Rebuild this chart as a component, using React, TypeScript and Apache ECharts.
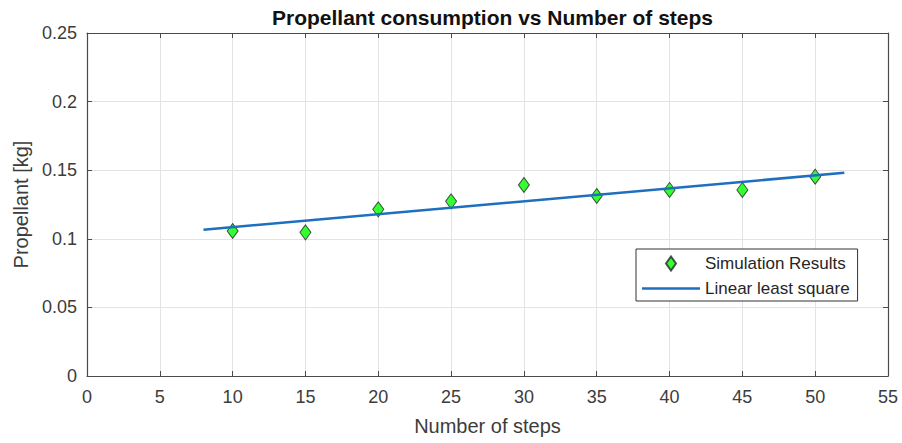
import React, { useEffect, useRef } from "react";
import * as echarts from "echarts";

const steps = [10, 15, 20, 25, 30, 35, 40, 45, 50];
const propellant = [0.1057, 0.1047, 0.1215, 0.1273, 0.1392, 0.1312, 0.1356, 0.1356, 0.1453];
const fitSteps = [8, 52];
const fitPropellant = [0.1066, 0.1481];
const seriesNames = ["Simulation Results", "Linear least square"];

const FONT = "'Liberation Sans', Arial, Helvetica, sans-serif";
const AXIS_COLOR = "#4a4a4a";
const TEXT_COLOR = "#3c3c3c";

export default function App() {
  const ref = useRef<HTMLDivElement>(null);
  useEffect(() => {
    if (!ref.current) return;
    const chart = echarts.init(ref.current, undefined, { renderer: "svg" });
    const commonX = {
      type: "value" as const,
      min: 0,
      max: 55,
      interval: 5,
    };
    const commonY = {
      type: "value" as const,
      min: 0,
      max: 0.25,
      interval: 0.05,
    };
    chart.setOption({
      animation: false,
      backgroundColor: "#ffffff",
      textStyle: { fontFamily: FONT },
      title: {
        text: "Propellant consumption vs Number of steps",
        left: 487.5,
        top: 2,
        textAlign: "center",
        textStyle: { fontFamily: FONT, fontSize: 21, fontWeight: "bold", color: "#111111" },
      },
      grid: { left: 87, right: 14, top: 33, bottom: 67, containLabel: false },
      xAxis: [
        {
          ...commonX,
          position: "bottom",
          name: "Number of steps",
          nameLocation: "middle",
          nameGap: 40,
          nameTextStyle: { fontFamily: FONT, fontSize: 20, color: TEXT_COLOR },
          axisLine: { show: true, onZero: false, lineStyle: { color: AXIS_COLOR, width: 1.2 } },
          axisTick: { show: true, inside: true, length: 5, lineStyle: { color: AXIS_COLOR } },
          axisLabel: { fontFamily: FONT, fontSize: 18, color: TEXT_COLOR, margin: 12 },
          splitLine: { show: true, lineStyle: { color: "#e3e3e3", width: 1 } },
        },
        {
          ...commonX,
          position: "top",
          axisLine: { show: true, onZero: false, lineStyle: { color: AXIS_COLOR, width: 1.2 } },
          axisTick: { show: true, inside: true, length: 5, lineStyle: { color: AXIS_COLOR } },
          axisLabel: { show: false },
          splitLine: { show: false },
        },
      ],
      yAxis: [
        {
          ...commonY,
          position: "left",
          name: "Propellant [kg]",
          nameLocation: "middle",
          nameGap: 54,
          nameTextStyle: { fontFamily: FONT, fontSize: 20, color: TEXT_COLOR },
          axisLine: { show: true, onZero: false, lineStyle: { color: AXIS_COLOR, width: 1.2 } },
          axisTick: { show: true, inside: true, length: 5, lineStyle: { color: AXIS_COLOR } },
          axisLabel: { fontFamily: FONT, fontSize: 18, color: TEXT_COLOR, margin: 10 },
          splitLine: { show: true, lineStyle: { color: "#e3e3e3", width: 1 } },
        },
        {
          ...commonY,
          position: "right",
          axisLine: { show: true, onZero: false, lineStyle: { color: AXIS_COLOR, width: 1.2 } },
          axisTick: { show: true, inside: true, length: 5, lineStyle: { color: AXIS_COLOR } },
          axisLabel: { show: false },
          splitLine: { show: false },
        },
      ],
      legend: {
        orient: "vertical",
        left: 636,
        top: 249,
        padding: [6, 8, 4, 6],
        itemGap: 8,
        itemWidth: 58,
        itemHeight: 14,
        backgroundColor: "#ffffff",
        borderColor: "#333333",
        borderWidth: 1,
        textStyle: { fontFamily: FONT, fontSize: 17, color: "#262626" },
        data: [
          {
            name: seriesNames[0],
            icon: "path://M5,0L10,7L5,14L0,7Z",
          },
          {
            name: seriesNames[1],
            icon: "path://M0,0L58,0L58,2.5L0,2.5Z",
            itemStyle: { color: "#1f6fbf", borderWidth: 0 },
          },
        ],
      },
      series: [
        {
          name: seriesNames[0],
          type: "scatter",
          xAxisIndex: 0,
          yAxisIndex: 0,
          symbol: "diamond",
          symbolSize: [11, 15],
          itemStyle: { color: "#00ff00", borderColor: "#262626", borderWidth: 1 },
          data: steps.map((s, i) => [s, propellant[i]]),
        },
        {
          name: seriesNames[1],
          type: "line",
          xAxisIndex: 0,
          yAxisIndex: 0,
          symbol: "none",
          color: "#1f6fbf",
          lineStyle: { color: "#1f6fbf", width: 2.5 },
          data: fitSteps.map((s, i) => [s, fitPropellant[i]]),
        },
      ],
    });
    return () => chart.dispose();
  }, []);
  return (
    <div
      ref={ref}
      style={{ position: "fixed", left: 0, top: 0, width: 902, height: 443, background: "#fff" }}
    />
  );
}
